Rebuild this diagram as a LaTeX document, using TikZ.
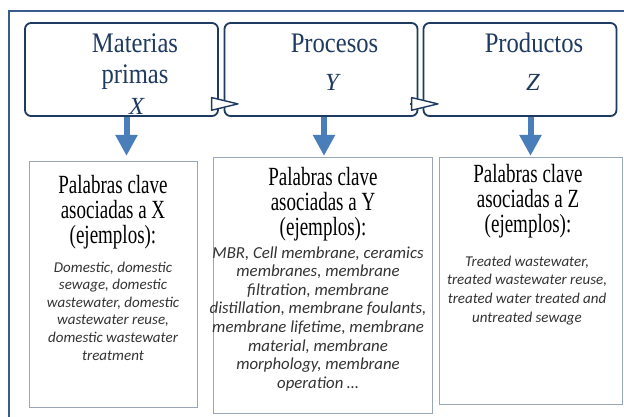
\documentclass[tikz,border=0pt]{standalone}
\usepackage{fontspec}
\usepackage{graphicx}
\setmainfont{Liberation Serif}
\newfontfamily\kwfont{Carlito}
\usetikzlibrary{arrows.meta,calc}

\definecolor{frameblue}{HTML}{385D8A}
\definecolor{navy}{HTML}{1F3A60}
\definecolor{arrowblue}{HTML}{4A7EBB}
\definecolor{boxgray}{HTML}{98A6B5}
\definecolor{kwgray}{HTML}{333333}

% text stacks: first baseline is the node's base
\newcommand{\stack}[1]{\scalebox{1}[1.15]{\begin{tabular}[t]{@{}c@{}}#1\end{tabular}}}
\newcommand{\headstack}[1]{\scalebox{1}[1.38]{\begin{tabular}[t]{@{}c@{}}#1\end{tabular}}}
\newcommand{\kwstack}[1]{\begin{tabular}[t]{@{}c@{}}#1\end{tabular}}

\begin{document}
\begin{tikzpicture}[x=1pt,y=-1pt,
  stage/.style={draw=navy, line width=1.8pt, rounded corners=6pt,
    minimum width=193pt, minimum height=93pt, inner sep=0pt},
  stagetext/.style={anchor=base, inner sep=0pt, text=navy,
    font=\fontsize{24.6}{23.5}\selectfont},
  keybox/.style={draw=boxgray, line width=1pt, inner sep=0pt},
  keyhead/.style={anchor=base, inner sep=0pt, text=black,
    font=\fontsize{19}{17.6}\selectfont},
  keylist/.style={anchor=base, inner sep=0pt, text=kwgray},
  flow/.style={draw=navy, line width=1.4pt,
    -{Triangle[length=30pt,width=14pt,fill=white,round]}},
  down/.style={draw=arrowblue, line width=6pt,
    -{Triangle[length=21pt,width=21pt,fill=arrowblue]}},
]
\useasboundingbox (0,0) rectangle (624,416);
\begin{scope}
\clip (0,0) rectangle (624,416);
\fill[white] (0,0) rectangle (624,416);
% outer frame, running past the right and lower edges
\draw[frameblue, line width=2pt] (8.5,11) rectangle (640,430);

% stage boxes
\node[stage] (tb1) at (121.5,69.5) {};
\node[stage] (tb2) at (321,69.5) {};
\node[stage] (tb3) at (520,69.5) {};

\node[stagetext] (t1) at (135,52) {\stack{Materias\\[4pt]primas}};
\node[stagetext] (lx) at (137,114.5) {\textit{X}};
\node[stagetext] (t2) at (334.5,52) {\stack{Procesos}};
\node[stagetext] (ly) at (333,90) {\textit{Y}};
\node[stagetext] (t3) at (534,52) {\stack{Productos}};
\node[stagetext] (lz) at (533,90) {\textit{Z}};

% keyword boxes
\node[keybox, minimum width=167.5pt, minimum height=246pt] (kb1) at (113.25,284) {};
\node[keybox, minimum width=219pt, minimum height=256pt] (kb2) at (322.5,285) {};
\node[keybox, minimum width=183.5pt, minimum height=247.5pt] (kb3) at (530.75,280.75) {};

% flow between stages
\draw[flow] ($(tb1.south east)+(-8,-13)$) -- ($(tb2.south west)+(15,-13)$);
\draw[flow] ($(tb2.south east)+(-8,-13)$) -- ($(tb3.south west)+(16,-13)$);

% stage to keywords
\draw[down] ($(tb1.south)+(5,0)$) -- ($(tb1.south)+(5,39)$);
\draw[down] ($(tb2.south)+(3,0)$) -- ($(tb2.south)+(3,39)$);
\draw[down] ($(tb3.south)+(10.5,0)$) -- ($(tb3.south)+(10.5,39)$);

% keyword texts
\node[keyhead] (h1) at (113,193) {\headstack{Palabras clave\\asociadas a X\\(ejemplos):}};
\node[keyhead] (h2) at (323,185) {\headstack{Palabras clave\\asociadas a Y\\(ejemplos):}};
\node[keyhead] (h3) at (528,182) {\headstack{Palabras clave\\asociadas a Z\\(ejemplos):}};

\node[keylist, font=\kwfont\itshape\fontsize{15}{17.6}\selectfont] (k1) at (113,272) {\kwstack{Domestic, domestic\\sewage, domestic\\wastewater, domestic\\wastewater reuse,\\domestic wastewater\\treatment}};
\node[keylist, font=\kwfont\itshape\fontsize{16.8}{18.6}\selectfont] (k2) at (318,258) {\kwstack{MBR, Cell membrane, ceramics\\membranes, membrane\\filtration, membrane\\distillation, membrane foulants,\\membrane lifetime, membrane\\material, membrane\\morphology, membrane\\operation \dots}};
\node[keylist, font=\kwfont\itshape\fontsize{15}{18.8}\selectfont] (k3) at (527,266) {\kwstack{Treated wastewater,\\treated wastewater reuse,\\treated water treated and\\untreated sewage}};
\end{scope}
\end{tikzpicture}
\end{document}
